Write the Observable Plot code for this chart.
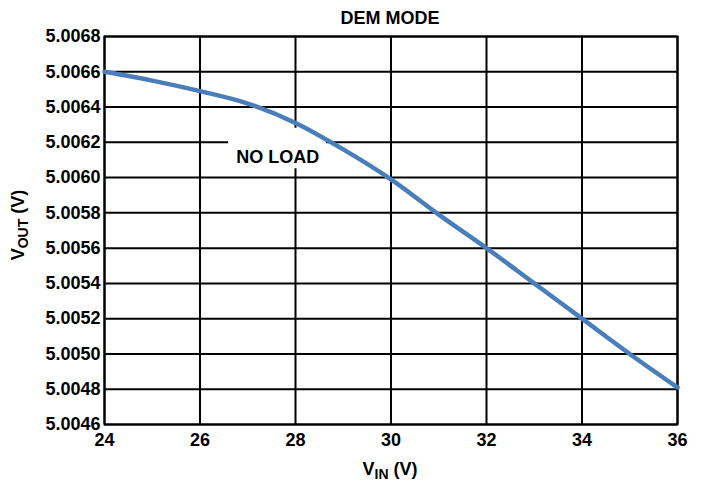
<!DOCTYPE html>
<html><head><meta charset="utf-8">
<script src="https://cdn.jsdelivr.net/npm/d3@7"></script>
<script src="https://cdn.jsdelivr.net/npm/@observablehq/plot@0.6"></script>
<style>body{margin:0;background:#fff;font-family:"Liberation Sans",Arial,sans-serif}</style>
</head><body><div id="chart"></div>
<script>
const vin = [24, 25, 26, 27, 28, 29, 30, 31, 32, 33, 34, 35, 36];
const vout = [5.00660, 5.00655, 5.00649, 5.00642, 5.00631, 5.00616, 5.00599, 5.00579, 5.00560, 5.00540, 5.00520, 5.00500, 5.00481];
const xTicks = [24, 26, 28, 30, 32, 34, 36];
const yTicks = [5.0046, 5.0048, 5.0050, 5.0052, 5.0054, 5.0056, 5.0058, 5.0060, 5.0062, 5.0064, 5.0066, 5.0068];
const title = "DEM MODE";
const annotation = "NO LOAD";

const data = vin.map((x, i) => ({x, y: vout[i]}));
const FS = 18;

const chart = Plot.plot({
  width: 707, height: 482,
  marginLeft: 104, marginRight: 30, marginTop: 36, marginBottom: 58,
  style: {fontFamily: '"Liberation Sans", Arial, sans-serif', fontSize: FS + "px", fontWeight: "bold", color: "#000", background: "#fff"},
  x: {domain: [24, 36], label: null},
  y: {domain: [5.0046, 5.0068], label: null},
  marks: [
    Plot.gridX(xTicks, {stroke: "#000", strokeOpacity: 1, strokeWidth: 2}),
    Plot.gridY(yTicks, {stroke: "#000", strokeOpacity: 1, strokeWidth: 2}),
    Plot.rect([{}], {x1: 26.6, x2: 28.65, y1: 5.00605, y2: 5.00628, fill: "#fff"}),
    Plot.text([annotation], {x: 27.63, y: 5.006114, text: d => d, fontSize: FS, fontWeight: "bold", fill: "#000"}),
    Plot.frame({stroke: "#000", strokeWidth: 2}),
    Plot.line(data, {x: "x", y: "y", stroke: "#4a7ebb", strokeWidth: 4.5, curve: "monotone-x"}),
    Plot.axisX({ticks: xTicks, tickSize: 0, tickPadding: 9, fontSize: FS, fontWeight: "bold", label: null}),
    Plot.axisY({ticks: yTicks, tickSize: 0, tickPadding: 4, tickFormat: d3.format(".4f"), fontSize: FS, fontWeight: "bold", label: null})
  ]
});

const svg = d3.select(chart);
svg.append("text").attr("x", 390).attr("y", 24).attr("text-anchor", "middle")
  .attr("font-size", FS).attr("font-weight", "bold").attr("fill", "#000").text(title);
const xl = svg.append("text").attr("x", 390).attr("y", 475).attr("text-anchor", "middle")
  .attr("font-size", FS).attr("font-weight", "bold").attr("fill", "#000");
xl.append("tspan").text("V");
xl.append("tspan").attr("font-size", 14).attr("dy", 4).text("IN");
xl.append("tspan").attr("dy", -4).text(" (V)");
const yl = svg.append("text").attr("transform", "translate(24,225) rotate(-90)").attr("text-anchor", "middle")
  .attr("font-size", FS).attr("font-weight", "bold").attr("fill", "#000");
yl.append("tspan").text("V");
yl.append("tspan").attr("font-size", 14).attr("dy", 4).text("OUT");
yl.append("tspan").attr("dy", -4).text(" (V)");

document.getElementById("chart").append(chart);
</script></body></html>
